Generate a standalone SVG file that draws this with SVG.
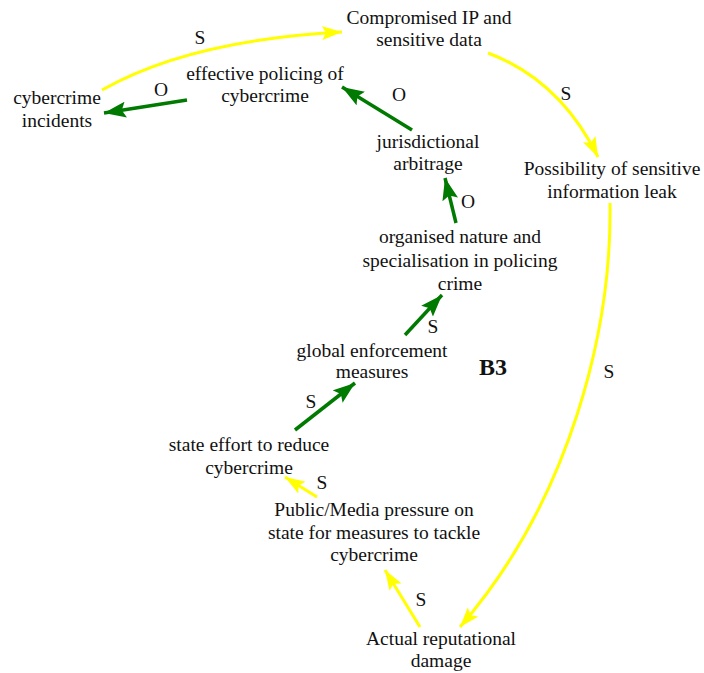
<svg xmlns="http://www.w3.org/2000/svg" width="704" height="673" viewBox="0 0 704 673">
<style>
.t{font-family:"Liberation Serif","Times New Roman",serif;font-size:19.5px;fill:#111;text-anchor:middle}
.b{font-family:"Liberation Serif","Times New Roman",serif;font-size:24px;font-weight:bold;fill:#111;text-anchor:middle}
.y{fill:none;stroke:#ffff00;stroke-width:3}
.g{fill:none;stroke:#007a00;stroke-width:3.5}
</style>
<defs>
<marker id="ay" viewBox="0 0 20 14" refX="20" refY="7" markerWidth="20" markerHeight="14" markerUnits="userSpaceOnUse" orient="auto"><path d="M0,0 L20,7 L0,14 L4,7 z" fill="#ffff00"/></marker>
<marker id="ag" viewBox="0 0 22 16" refX="22" refY="8" markerWidth="22" markerHeight="16" markerUnits="userSpaceOnUse" orient="auto"><path d="M0,0 L22,8 L0,16 L4,8 z" fill="#007a00"/></marker>
</defs>
<rect width="704" height="673" fill="#fff"/>
<g id="connectors">
<path class="y" d="M102,90 Q190,40 342,32" marker-end="url(#ay)"/>
<path class="y" d="M488,53 Q560,80 598,157" marker-end="url(#ay)"/>
<path class="y" d="M610,203 C612,330 570,500 460,627" marker-end="url(#ay)"/>
<path class="y" d="M317,497 L285,477" marker-end="url(#ay)"/>
<path class="y" d="M420,627 L385,570" marker-end="url(#ay)"/>
<path class="g" d="M187,100 L104,113" marker-end="url(#ag)"/>
<path class="g" d="M412,130 L342,87" marker-end="url(#ag)"/>
<path class="g" d="M456,223 L445,178" marker-end="url(#ag)"/>
<path class="g" d="M405,335 L442,295" marker-end="url(#ag)"/>
<path class="g" d="M295,430 L355,383" marker-end="url(#ag)"/>
<g class="t">
<text x="200" y="44">S</text>
<text x="161" y="96">O</text>
<text x="399" y="101">O</text>
<text x="566" y="100">S</text>
<text x="468" y="208">O</text>
<text x="433" y="333">S</text>
<text x="311" y="408">S</text>
<text x="322" y="489">S</text>
<text x="421" y="606">S</text>
<text x="609" y="378">S</text>
</g>
</g>
<g id="compromised"><text class="t" x="429" y="24">Compromised IP and</text><text class="t" x="429" y="46">sensitive data</text></g>
<g id="incidents"><text class="t" x="57" y="104">cybercrime</text><text class="t" x="57" y="127">incidents</text></g>
<g id="policing"><text class="t" x="265" y="80">effective policing of</text><text class="t" x="265" y="102">cybercrime</text></g>
<g id="jurisdictional"><text class="t" x="428" y="148">jurisdictional</text><text class="t" x="428" y="170">arbitrage</text></g>
<g id="possibility"><text class="t" x="612" y="175">Possibility of sensitive</text><text class="t" x="612" y="198">information leak</text></g>
<g id="organised"><text class="t" x="460" y="243">organised nature and</text><text class="t" x="460" y="267">specialisation in policing</text><text class="t" x="460" y="290">crime</text></g>
<g id="global"><text class="t" x="372" y="357">global enforcement</text><text class="t" x="372" y="378">measures</text></g>
<g id="loop"><text class="b" x="493" y="375">B3</text></g>
<g id="state"><text class="t" x="249" y="451">state effort to reduce</text><text class="t" x="249" y="474">cybercrime</text></g>
<g id="public"><text class="t" x="374" y="516">Public/Media pressure on</text><text class="t" x="374" y="539">state for measures to tackle</text><text class="t" x="374" y="561">cybercrime</text></g>
<g id="actual"><text class="t" x="441" y="645">Actual reputational</text><text class="t" x="441" y="667">damage</text></g>
</svg>
